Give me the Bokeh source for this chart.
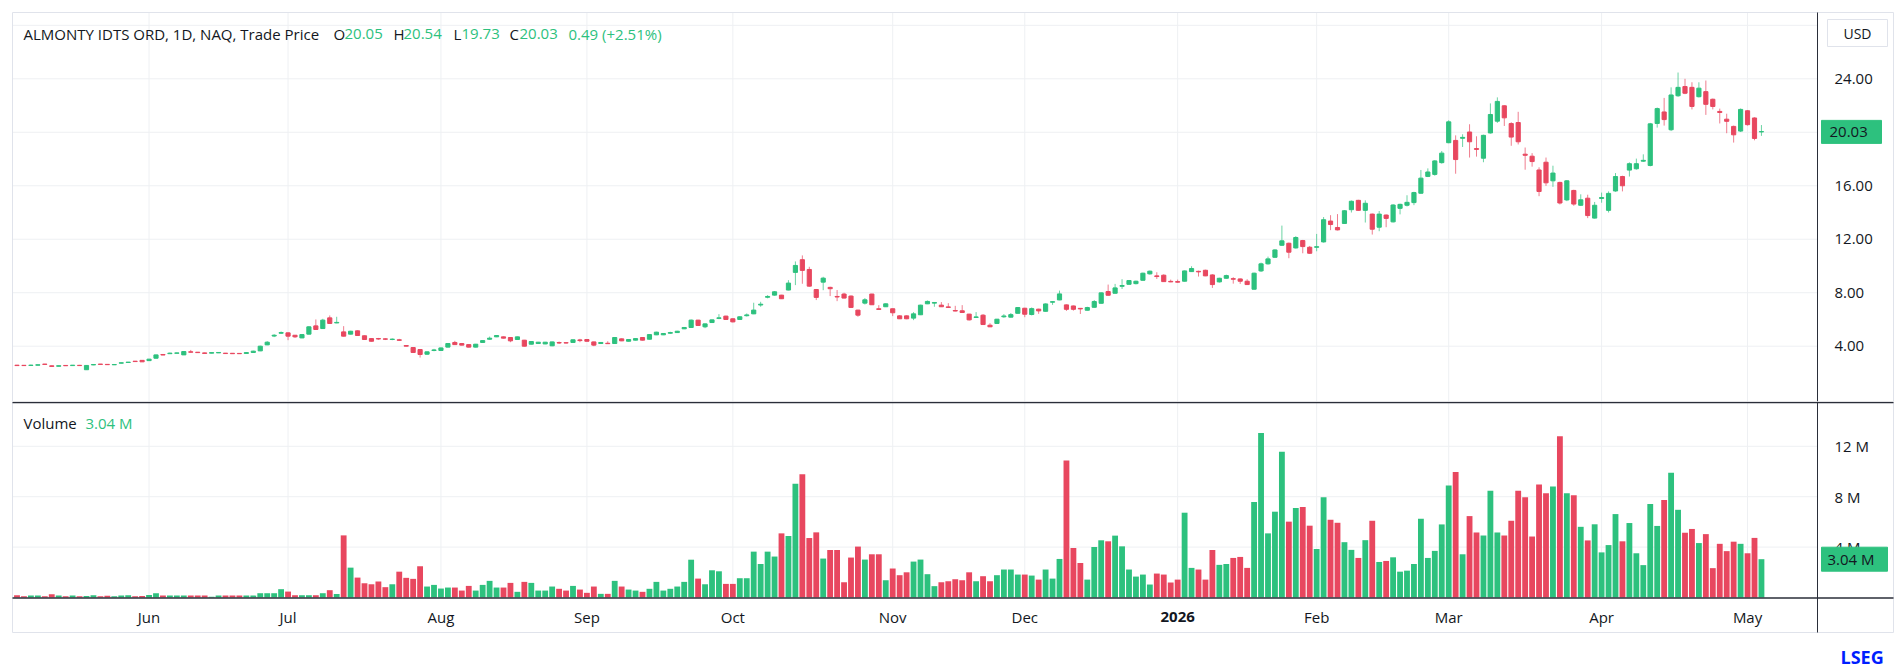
from bokeh.plotting import figure
from bokeh.layouts import column
from bokeh.models import Range1d, ColumnDataSource
from bokeh.core.properties import value
from bokeh.embed import file_html
from bokeh.resources import INLINE

# ---------------- data (daily bars, May 2025 .. May 2026) ----------------
opens = [
    2.58, 2.57, 2.56, 2.58, 2.66, 2.53, 2.50, 2.56, 2.55, 2.57, 2.24, 2.60, 2.66, 2.64, 2.61, 2.73, 2.78, 2.88, 2.94,
    2.92, 3.10, 3.38, 3.44, 3.47, 3.35, 3.58, 3.55, 3.50, 3.48, 3.50, 3.48, 3.47, 3.46, 3.46, 3.53, 3.65, 4.10, 4.76, 4.97,
    5.00, 4.82, 4.62, 4.90, 5.52, 5.32, 6.12, 5.74, 5.07, 4.90, 5.15, 4.78, 4.57, 4.57, 4.55, 4.50, 4.48, 4.05, 3.90, 3.75, 3.40, 3.68,
    3.68, 3.93, 4.28, 4.20, 4.12, 3.93, 4.28, 4.52, 4.70, 4.70, 4.65, 4.50, 4.45, 4.15, 4.20, 4.17, 4.03, 4.27, 4.26, 4.28, 4.47,
    4.50, 4.32, 4.20, 4.22, 4.20, 4.55, 4.37, 4.45, 4.65, 4.52, 4.85, 4.85, 4.97, 5.02, 5.30, 5.40, 5.95, 5.45, 5.77, 6.08, 6.25,
    6.05, 6.00, 6.28, 6.42, 7.08, 7.66, 7.82, 7.82, 8.20, 9.52, 10.47, 9.74, 8.24, 8.79, 8.40, 7.72, 7.90, 7.75, 6.70, 7.22, 7.90, 6.80, 6.95,
    6.80, 6.27, 6.27, 6.10, 6.35, 7.17, 7.22, 7.07, 6.94, 6.67, 6.65, 6.40, 6.15, 6.32, 5.57, 5.70, 6.20, 6.17, 6.46,
    6.84, 6.37, 6.77, 6.61, 7.29, 7.46, 7.09, 7.01, 6.83, 6.69, 6.91, 7.21, 8.09, 7.96, 8.48, 8.63, 8.68, 8.93, 9.41, 9.26, 9.31, 8.85,
    8.83, 8.86, 9.58, 9.60, 9.68, 9.33, 8.81, 9.08, 9.05, 9.03, 8.86, 8.26, 9.63, 10.16, 10.65, 11.55, 11.70, 11.35, 11.90, 11.40,
    11.40, 11.80, 13.36, 12.88, 13.18, 14.21, 14.91, 14.16, 13.88, 12.90, 13.81, 13.30, 14.31, 14.54, 14.74, 15.44, 16.70, 16.85, 17.73,
    19.22, 19.39, 19.55, 20.02, 18.78, 18.06, 19.95, 20.83, 21.98, 20.65, 20.73, 18.36, 18.21, 17.18, 17.76, 16.37, 16.25, 14.94, 15.65, 14.54, 15.07, 13.58,
    15.05, 14.16, 15.61, 16.69, 17.17, 17.27, 17.84, 17.52, 20.66, 21.52, 20.19, 22.73, 23.42, 23.36, 22.66, 23.04, 22.47, 21.56, 20.98, 20.44, 20.09,
    21.61, 21.07, 20.05,
]
highs = [
    2.60, 2.58, 2.62, 2.62, 2.67, 2.55, 2.55, 2.59, 2.59, 2.60, 2.58, 2.66, 2.67, 2.65, 2.64, 2.78, 2.82, 2.89, 2.96,
    3.05, 3.37, 3.40, 3.52, 3.52, 3.62, 3.72, 3.56, 3.52, 3.53, 3.54, 3.49, 3.48, 3.47, 3.54, 3.66, 4.04, 4.38, 4.90, 5.10,
    5.03, 4.84, 4.90, 5.50, 6.00, 6.05, 6.30, 6.20, 5.50, 5.15, 5.18, 4.80, 4.60, 4.62, 4.60, 4.58, 4.55, 4.07, 3.92, 3.77, 3.60, 3.80,
    3.90, 4.22, 4.40, 4.22, 4.14, 4.17, 4.45, 4.72, 4.82, 4.72, 4.67, 4.72, 4.47, 4.37, 4.32, 4.32, 4.34, 4.35, 4.30, 4.50, 4.55,
    4.52, 4.34, 4.30, 4.37, 4.67, 4.58, 4.52, 4.60, 4.67, 4.90, 5.08, 4.98, 5.08, 5.15, 5.42, 6.00, 5.97, 5.70, 6.00, 6.40, 6.28,
    6.08, 6.23, 6.45, 7.25, 7.32, 7.82, 8.12, 7.84, 8.94, 10.34, 10.79, 9.94, 8.28, 9.19, 8.45, 8.20, 8.00, 7.80, 6.72, 7.60, 7.92, 7.07, 7.20,
    6.82, 6.32, 6.30, 6.55, 7.10, 7.42, 7.30, 7.30, 7.22, 7.02, 7.07, 6.42, 6.55, 6.40, 5.72, 6.04, 6.40, 6.48, 6.92,
    6.87, 6.90, 6.80, 7.20, 7.35, 8.16, 7.12, 7.04, 6.86, 6.95, 7.45, 8.02, 8.61, 8.66, 9.01, 8.95, 8.90, 9.50, 9.66, 9.53, 9.38, 8.98,
    8.98, 9.66, 9.98, 9.65, 9.72, 9.38, 9.12, 9.35, 9.16, 9.06, 9.01, 9.50, 10.25, 10.70, 11.25, 13.02, 11.75, 12.23, 11.95, 11.50,
    12.40, 13.66, 13.80, 13.88, 14.18, 14.90, 14.95, 14.91, 13.92, 14.11, 13.85, 14.62, 14.66, 15.29, 15.55, 17.18, 17.30, 17.92, 18.60,
    20.90, 19.77, 19.85, 20.60, 19.70, 19.82, 22.16, 22.61, 22.02, 20.75, 21.53, 18.86, 18.44, 17.38, 18.11, 17.50, 16.30, 16.42, 15.70, 15.36, 15.33, 14.79,
    15.49, 15.58, 16.95, 16.75, 17.75, 18.03, 18.35, 20.70, 21.85, 22.57, 23.36, 24.47, 24.00, 23.74, 23.74, 23.87, 22.52, 21.77, 21.39, 20.50, 21.78,
    21.66, 21.12, 20.54,
]
lows = [
    2.54, 2.54, 2.53, 2.57, 2.62, 2.48, 2.49, 2.52, 2.54, 2.52, 2.22, 2.58, 2.63, 2.61, 2.60, 2.72, 2.77, 2.84, 2.82,
    2.90, 3.08, 3.33, 3.43, 3.46, 3.34, 3.53, 3.50, 3.45, 3.47, 3.49, 3.44, 3.43, 3.42, 3.45, 3.52, 3.63, 4.08, 4.68, 4.92,
    4.45, 4.62, 4.60, 4.88, 5.22, 5.30, 5.68, 5.72, 4.73, 4.88, 4.78, 4.48, 4.35, 4.48, 4.46, 4.45, 4.40, 3.98, 3.50, 3.15, 3.36, 3.62,
    3.66, 3.91, 4.10, 4.06, 3.91, 3.91, 4.26, 4.48, 4.68, 4.58, 4.30, 4.48, 3.98, 4.13, 4.18, 4.15, 4.00, 4.17, 4.20, 4.26, 4.30,
    4.35, 4.00, 4.18, 4.17, 4.18, 4.38, 4.35, 4.43, 4.43, 4.50, 4.83, 4.83, 4.92, 5.00, 5.28, 5.38, 5.53, 5.35, 5.75, 6.02, 5.98,
    5.78, 5.98, 6.22, 6.40, 6.95, 7.58, 7.78, 7.53, 8.18, 8.57, 8.67, 8.45, 7.45, 8.19, 7.75, 7.37, 7.58, 6.88, 6.20, 7.12, 7.08, 6.73, 6.93,
    6.25, 6.03, 6.02, 5.95, 6.33, 7.15, 6.95, 6.93, 6.88, 6.61, 6.50, 5.92, 6.13, 5.60, 5.43, 5.68, 6.12, 6.15, 6.44,
    6.17, 6.30, 6.42, 6.59, 7.09, 7.44, 6.64, 6.66, 6.41, 6.67, 6.89, 7.19, 7.79, 7.94, 8.28, 8.61, 8.62, 8.91, 9.35, 9.03, 8.81, 8.79,
    8.75, 8.84, 9.56, 9.21, 9.24, 8.36, 8.76, 9.05, 8.68, 8.66, 8.58, 8.24, 9.55, 10.10, 10.62, 11.50, 10.58, 11.30, 10.95, 10.90,
    11.10, 11.75, 12.68, 12.66, 13.14, 14.00, 14.12, 13.25, 12.35, 12.60, 12.90, 13.25, 13.86, 14.45, 14.55, 15.40, 16.65, 16.75, 17.65,
    19.18, 16.90, 18.90, 18.11, 18.18, 17.76, 19.90, 20.70, 20.47, 18.99, 19.09, 17.20, 17.43, 15.22, 15.99, 15.92, 14.60, 14.85, 14.50, 14.50, 13.58, 13.55,
    14.73, 14.00, 15.55, 15.58, 16.69, 17.20, 17.78, 17.45, 20.35, 20.50, 20.09, 22.65, 22.85, 21.71, 22.60, 21.30, 21.71, 20.66, 19.93, 19.23, 20.02,
    20.50, 19.40, 19.73,
]
closes = [
    2.55, 2.55, 2.58, 2.61, 2.64, 2.49, 2.54, 2.54, 2.58, 2.55, 2.56, 2.63, 2.64, 2.62, 2.63, 2.76, 2.81, 2.85, 2.83,
    3.03, 3.35, 3.34, 3.48, 3.50, 3.60, 3.55, 3.52, 3.46, 3.52, 3.53, 3.45, 3.44, 3.44, 3.52, 3.63, 4.00, 4.30, 4.82, 5.02,
    4.75, 4.70, 4.87, 5.45, 5.25, 5.95, 5.70, 5.78, 4.75, 5.12, 4.80, 4.50, 4.37, 4.54, 4.52, 4.53, 4.44, 4.00, 3.53, 3.38, 3.58, 3.72,
    3.87, 4.20, 4.12, 4.08, 3.93, 4.15, 4.42, 4.60, 4.80, 4.60, 4.40, 4.70, 4.00, 4.35, 4.30, 4.30, 4.32, 4.24, 4.24, 4.48, 4.42,
    4.37, 4.08, 4.28, 4.19, 4.65, 4.40, 4.50, 4.57, 4.45, 4.87, 5.05, 4.95, 5.02, 5.12, 5.40, 5.95, 5.55, 5.67, 5.97, 6.12, 6.00,
    5.82, 6.20, 6.34, 6.70, 7.14, 7.72, 8.07, 7.55, 8.72, 10.04, 9.67, 8.49, 7.65, 9.09, 8.30, 7.68, 7.60, 6.90, 6.32, 7.47, 7.10, 6.75, 7.17,
    6.50, 6.05, 6.05, 6.42, 7.07, 7.35, 7.27, 6.95, 6.90, 6.63, 6.52, 5.97, 6.19, 5.62, 5.45, 6.02, 6.26, 6.36, 6.89,
    6.39, 6.81, 6.64, 7.16, 7.33, 7.91, 6.76, 6.76, 6.79, 6.89, 7.34, 7.99, 7.81, 8.36, 8.54, 8.91, 8.86, 9.46, 9.61, 9.21, 8.83, 8.81,
    8.79, 9.63, 9.81, 9.56, 9.26, 8.61, 9.08, 9.28, 9.01, 8.86, 8.61, 9.46, 10.16, 10.53, 11.20, 11.88, 11.03, 12.13, 11.45, 10.95,
    11.44, 13.46, 13.10, 12.70, 14.13, 14.84, 14.16, 14.69, 12.75, 13.88, 13.56, 14.56, 14.61, 14.76, 15.49, 16.57, 17.03, 17.86, 18.44,
    20.78, 17.96, 19.62, 19.29, 18.72, 19.77, 21.33, 22.31, 21.08, 19.64, 19.29, 18.28, 17.81, 15.57, 16.22, 16.95, 14.71, 16.37, 14.63, 14.95, 13.77, 14.54,
    15.12, 15.43, 16.69, 16.00, 17.65, 17.65, 17.90, 20.63, 21.77, 20.95, 22.79, 23.36, 22.92, 21.93, 23.30, 22.09, 21.93, 21.48, 20.82, 19.81, 21.71,
    20.57, 19.54, 20.03,
]
volumes_m = [
    0.18, 0.10, 0.15, 0.15, 0.10, 0.26, 0.15, 0.10, 0.15, 0.10, 0.12, 0.18, 0.10, 0.14, 0.10, 0.15, 0.18, 0.10, 0.12,
    0.20, 0.34, 0.15, 0.15, 0.15, 0.15, 0.15, 0.15, 0.15, 0.05, 0.15, 0.15, 0.15, 0.15, 0.15, 0.15, 0.34, 0.34, 0.34, 0.66,
    0.47, 0.18, 0.18, 0.18, 0.18, 0.34, 0.58, 0.28, 4.93, 2.37, 1.58, 1.13, 1.05, 1.27, 0.82, 1.05, 2.05, 1.56, 1.48, 2.48, 0.87, 1.00,
    0.71, 0.79, 0.79, 0.55, 0.92, 0.55, 1.00, 1.32, 0.79, 0.79, 1.16, 0.45, 1.24, 1.16, 0.55, 0.55, 0.87, 0.69, 0.55, 0.92, 0.63,
    0.37, 0.87, 0.29, 0.29, 1.32, 0.87, 0.63, 0.55, 0.45, 0.69, 1.24, 0.55, 0.69, 0.87, 1.24, 3.00, 1.50, 1.05, 2.16, 2.08, 1.08,
    1.08, 1.53, 1.53, 3.64, 2.66, 3.64, 3.25, 5.09, 4.88, 9.02, 9.79, 4.72, 5.17, 3.09, 3.77, 3.77, 1.21, 3.17, 4.04, 3.01, 3.43, 3.43, 1.37,
    2.30, 1.77, 2.00, 2.85, 3.01, 1.85, 0.90, 1.21, 1.29, 1.45, 1.37, 2.00, 1.29, 1.69, 1.29, 1.77, 2.22, 2.22, 1.82,
    1.82, 1.74, 1.42, 2.22, 1.50, 3.06, 10.87, 3.93, 2.74, 1.42, 4.01, 4.54, 4.46, 4.91, 4.06, 2.22, 1.66, 1.82, 1.03, 1.90, 1.82, 1.19,
    1.42, 6.73, 2.35, 2.22, 1.42, 3.77, 2.59, 2.66, 3.14, 3.22, 2.35, 7.57, 13.06, 5.09, 6.81, 11.56, 6.02, 7.10, 7.18, 5.70,
    3.85, 7.95, 6.17, 5.93, 4.39, 3.78, 3.14, 4.55, 6.09, 2.82, 2.90, 3.19, 2.05, 2.13, 2.66, 6.25, 3.14, 3.70, 5.80,
    8.88, 9.97, 3.43, 6.46, 5.16, 4.92, 8.48, 5.16, 4.92, 6.09, 8.48, 7.95, 4.84, 8.96, 8.27, 8.80, 12.79, 8.27, 8.11, 5.61, 4.53, 5.81,
    3.58, 4.16, 6.62, 4.46, 5.91, 3.51, 2.57, 7.43, 5.68, 7.74, 9.90, 6.96, 5.14, 5.44, 4.32, 5.03, 2.33, 4.26, 3.68, 4.43, 4.26,
    3.51, 4.73, 3.04,
]
month_ticks = [19, 39, 61, 82, 103, 126, 145, 167, 187, 206, 228, 249]
month_labels = ["Jun", "Jul", "Aug", "Sep", "Oct", "Nov", "Dec", "2026", "Feb", "Mar", "Apr", "May"]
price_ticks = [4, 8, 12, 16, 20, 24]
price_tick_labels = ["4.00", "8.00", "12.00", "16.00", "20.00", "24.00"]
price_grid = [4, 8, 12, 16, 20, 24, 28]
vol_ticks = [4e6, 8e6, 12e6]
vol_tick_labels = ["4 M", "8 M", "12 M"]
title_parts = ["ALMONTY IDTS ORD, 1D, NAQ, Trade Price", "O", "20.05", "H", "20.54",
               "L", "19.73", "C", "20.03", "0.49 (+2.51%)"]
currency_label = "USD"
last_price_label = "20.03"
last_volume_label = "3.04 M"
brand_label = "LSEG"

# ---------------- styling / geometry (page pixels) ----------------
UP = "#2dc17e"
DOWN = "#e8475f"
TXT = "#131722"
GRID = "#eef0f3"
BORDER = "#e0e3eb"
AXIS = "#2a2e39"
FONT = "Open Sans"
FS = "15px"

W = 1900
H1 = 401
H2 = 268
PXB = 6.95        # pixels per bar
BAR0 = 16.5       # page x of bar 0
L, R, T, B = 12, 1893, 12, 632   # chart border
AX = 1817                        # price-scale line
LBL = 1834                       # price-scale label x


def X(px):
    return (px - BAR0) / PXB


def P(py):
    return 4 + (345.7 - py) / 13.37


def V(py):
    return (597 - py) / 12.6 * 1e6


n = len(closes)
colors = [UP if c >= o else DOWN for o, c in zip(opens, closes)]
colors[-1] = UP  # last bar shown up (close above previous close)
src = ColumnDataSource(dict(
    x=list(range(n)), high=highs, low=lows,
    top=[max(o, c) for o, c in zip(opens, closes)],
    bottom=[min(o, c) for o, c in zip(opens, closes)],
    vol=[v * 1e6 for v in volumes_m], color=colors))

xr = Range1d(X(0), X(W))
common = dict(output_backend="svg", toolbar_location=None, x_axis_location=None,
              y_axis_location=None, min_border_left=0, min_border_right=0,
              min_border_top=0, min_border_bottom=0, outline_line_color=None,
              background_fill_color="white", border_fill_color="white")

# ---------------- price pane ----------------
p1 = figure(width=W, height=H1, x_range=xr, y_range=Range1d(P(H1), P(0)), **common)
p1.grid.visible = False

# grid
p1.segment(x0=[X(L)] * len(price_grid), y0=price_grid, x1=[X(AX)] * len(price_grid), y1=price_grid,
           line_color=GRID, line_width=1)
p1.segment(x0=month_ticks, y0=[P(T)] * len(month_ticks), x1=month_ticks, y1=[P(H1)] * len(month_ticks),
           line_color=GRID, line_width=1)
# border
p1.segment(x0=[X(L), X(L), X(R)], y0=[P(T), P(T), P(T)], x1=[X(R), X(L), X(R)], y1=[P(T), P(H1), P(H1)],
           line_color=BORDER, line_width=1)

# candles
p1.segment(x0="x", y0="low", x1="x", y1="high", line_color="color", line_alpha=0.7,
           line_width=1, source=src)
p1.vbar(x="x", width=0.6, top="top", bottom="bottom", fill_color="color",
        line_color="color", line_width=1, source=src)

# price scale
p1.segment(x0=[X(AX)], y0=[P(T)], x1=[X(AX)], y1=[P(H1)], line_color=AXIS, line_width=1)
p1.text(x=[X(LBL)] * len(price_ticks), y=price_ticks, text=price_tick_labels,
        text_font=value(FONT), text_font_size=FS, text_color=TXT,
        text_align="left", text_baseline="middle")

# currency box
p1.quad(left=[X(1827)], right=[X(1887)], top=[P(19)], bottom=[P(46)],
        fill_color="white", line_color=BORDER, line_width=1)
p1.text(x=[X(1857)], y=[P(32.5)], text=[currency_label], text_font=value(FONT),
        text_font_size="14px", text_color=TXT, text_align="center", text_baseline="middle")

# last price tag
half = 11.5 / 13.37
p1.quad(left=[X(1821)], right=[X(1881)], top=[closes[-1] + half], bottom=[closes[-1] - half],
        fill_color=UP, line_color=UP)
p1.text(x=[X(1829)], y=[closes[-1]], text=[last_price_label], text_font=value(FONT),
        text_font_size=FS, text_color=TXT, text_align="left", text_baseline="middle")

# legend line
TITLE_Y = P(33)
title_px = [23, 333, 344, 393, 403, 453, 461, 509, 519, 568]
title_col = [TXT, TXT, UP, TXT, UP, TXT, UP, TXT, UP, UP]
p1.text(x=[X(px) for px in title_px], y=[TITLE_Y] * len(title_px), text=title_parts,
        text_color=title_col, text_font=value(FONT), text_font_size=FS,
        text_align="left", text_baseline="middle")

# ---------------- volume pane ----------------
p2 = figure(width=W, height=H2, x_range=xr, y_range=Range1d(V(H1 + H2), V(H1)), **common)
p2.grid.visible = False

p2.segment(x0=[X(L)] * len(vol_ticks), y0=vol_ticks, x1=[X(AX)] * len(vol_ticks), y1=vol_ticks,
           line_color=GRID, line_width=1)
p2.segment(x0=month_ticks, y0=[V(597)] * len(month_ticks), x1=month_ticks, y1=[V(H1)] * len(month_ticks),
           line_color=GRID, line_width=1)

p2.vbar(x="x", width=0.84, top="vol", bottom=0, fill_color="color", line_color=None, source=src)

# border
p2.segment(x0=[X(L), X(R), X(L)], y0=[V(H1), V(H1), V(B)], x1=[X(L), X(R), X(R)], y1=[V(B), V(B), V(B)],
           line_color=BORDER, line_width=1)
# pane divider and time-axis line
p2.segment(x0=[X(L), X(L)], y0=[V(402), V(597.5)], x1=[X(R), X(R)], y1=[V(402), V(597.5)],
           line_color=AXIS, line_width=1.5)
# volume scale
p2.segment(x0=[X(AX)], y0=[V(H1)], x1=[X(AX)], y1=[V(B)], line_color=AXIS, line_width=1)
p2.text(x=[X(LBL)] * len(vol_ticks), y=vol_ticks, text=vol_tick_labels,
        text_font=value(FONT), text_font_size=FS, text_color=TXT,
        text_align="left", text_baseline="middle")
vhalf = 12 / 12.6 * 1e6
p2.quad(left=[X(1821)], right=[X(1887)], top=[volumes_m[-1] * 1e6 + vhalf],
        bottom=[volumes_m[-1] * 1e6 - vhalf], fill_color=UP, line_color=UP)
p2.text(x=[X(1827)], y=[volumes_m[-1] * 1e6], text=[last_volume_label], text_font=value(FONT),
        text_font_size=FS, text_color=TXT, text_align="left", text_baseline="middle")

# time axis labels
reg = [i for i, l in enumerate(month_labels) if l != "2026"]
bold = [i for i, l in enumerate(month_labels) if l == "2026"]
p2.text(x=[month_ticks[i] for i in reg], y=[V(616)] * len(reg), text=[month_labels[i] for i in reg],
        text_font=value(FONT), text_font_size=FS, text_color=TXT,
        text_align="center", text_baseline="middle")
p2.text(x=[month_ticks[i] for i in bold], y=[V(616)] * len(bold), text=[month_labels[i] for i in bold],
        text_font=value(FONT), text_font_size=FS, text_font_style="bold", text_color=TXT,
        text_align="center", text_baseline="middle")

# pane legend
p2.text(x=[X(23), X(85)], y=[V(422), V(422)], text=["Volume", last_volume_label],
        text_color=[TXT, UP], text_font=value(FONT), text_font_size=FS,
        text_align="left", text_baseline="middle")

# brand
p2.text(x=[X(1840)], y=[V(656)], text=[brand_label], text_font=value(FONT),
        text_font_size="18px", text_font_style="bold", text_color="#001eff",
        text_align="left", text_baseline="middle")

layout = column(p1, p2, spacing=0)
open("out.html", "w").write(file_html(layout, INLINE))
